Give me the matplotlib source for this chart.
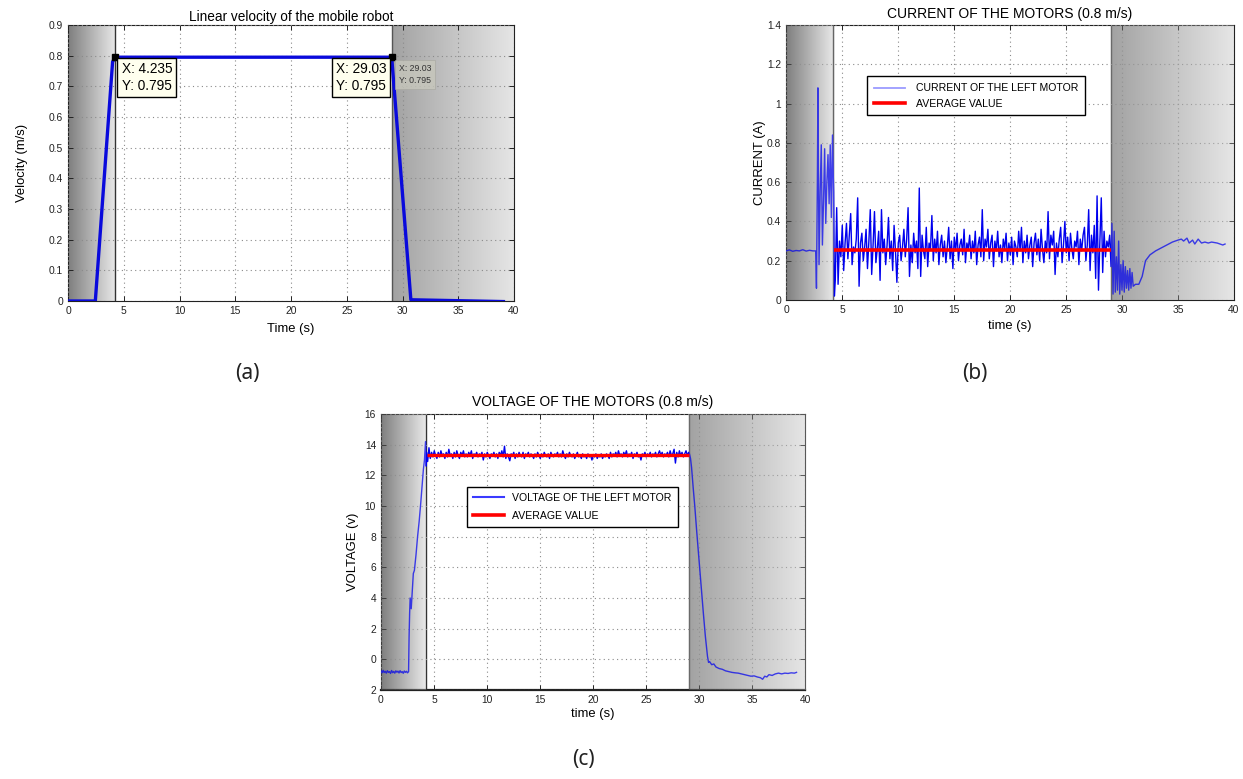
import numpy as np
import matplotlib
matplotlib.use("Agg")
import matplotlib.pyplot as plt
from matplotlib.colors import LinearSegmentedColormap
from matplotlib.lines import Line2D

plt.rcParams["font.family"] = ["Liberation Sans", "DejaVu Sans"]

# ---------------- data ----------------
# (a) linear velocity of the robot
vel_t = [0.0, 2.45, 4.0, 4.235, 29.03, 30.75, 39.2]
vel_v = [0.0, 0.0, 0.78, 0.795, 0.795, 0.004, -0.002]
tip_points = [(4.235, 0.795), (29.03, 0.795)]

# (b) motor current: start-up transient, steady run, stop transient
cur_start_t = [0.0, 0.3, 0.6, 0.9, 1.2, 1.5, 1.8, 2.1, 2.4, 2.65, 2.72, 2.8, 2.85,
               2.95, 3.05, 3.15, 3.25, 3.35, 3.45, 3.55, 3.65, 3.75, 3.85, 3.95,
               4.05, 4.15, 4.25, 4.32]
cur_start_v = [0.25, 0.255, 0.248, 0.252, 0.25, 0.256, 0.249, 0.253, 0.25, 0.25,
               0.06, 0.60, 1.08, 0.18, 0.55, 0.79, 0.28, 0.50, 0.77, 0.39, 0.60,
               0.74, 0.49, 0.79, 0.42, 0.84, 0.55, 0.02]
cur_run_t0, cur_run_dt = 4.4, 0.125
cur_run_v = [
    0.10, 0.47, 0.08, 0.30, 0.22, 0.38, 0.15, 0.29, 0.39, 0.21,
    0.33, 0.44, 0.18, 0.27, 0.24, 0.31, 0.52, 0.07, 0.29, 0.34,
    0.20, 0.27, 0.36, 0.16, 0.30, 0.46, 0.13, 0.28, 0.45, 0.19,
    0.26, 0.35, 0.10, 0.46, 0.24, 0.31, 0.18, 0.28, 0.42, 0.21,
    0.30, 0.15, 0.38, 0.25, 0.09, 0.29, 0.33, 0.20, 0.27, 0.36,
    0.22, 0.31, 0.47, 0.12, 0.28, 0.19, 0.34, 0.24, 0.30, 0.16,
    0.57, 0.12, 0.33, 0.25, 0.21, 0.37, 0.17, 0.29, 0.26, 0.43,
    0.20, 0.31, 0.24, 0.35, 0.18, 0.28, 0.33, 0.22, 0.30, 0.19,
    0.27, 0.37, 0.21, 0.30, 0.16, 0.32, 0.25, 0.34, 0.20, 0.28,
    0.31, 0.23, 0.36, 0.19, 0.29, 0.26, 0.33, 0.21, 0.30, 0.24,
    0.35, 0.18, 0.28, 0.32, 0.22, 0.46, 0.20, 0.31, 0.27, 0.36,
    0.21, 0.29, 0.33, 0.17, 0.30, 0.25, 0.35, 0.22, 0.28, 0.19,
    0.31, 0.26, 0.34, 0.20, 0.29, 0.23, 0.32, 0.18, 0.30, 0.27,
    0.22, 0.35, 0.25, 0.37, 0.19, 0.30, 0.24, 0.33, 0.21, 0.28,
    0.32, 0.17, 0.29, 0.34, 0.23, 0.31, 0.20, 0.36, 0.26, 0.19,
    0.30, 0.24, 0.45, 0.21, 0.33, 0.28, 0.35, 0.13, 0.29, 0.22,
    0.31, 0.37, 0.19, 0.28, 0.40, 0.24, 0.32, 0.20, 0.34, 0.26,
    0.21, 0.30, 0.27, 0.35, 0.18, 0.31, 0.25, 0.33, 0.37, 0.20,
    0.28, 0.46, 0.15, 0.33, 0.24, 0.38, 0.11, 0.53, 0.05, 0.30,
    0.52, 0.14, 0.35, 0.22, 0.30, 0.27, 0.33, 0.17,
]
cur_stop_t = [29.1, 29.2, 29.3, 29.4, 29.5, 29.6, 29.7, 29.8, 29.9, 30.0, 30.1,
              30.2, 30.3, 30.4, 30.5, 30.6, 30.7, 30.8, 30.9, 31.0, 31.2, 31.5,
              31.8, 32.1, 32.5, 33.0, 33.5, 34.0, 34.5, 35.0, 35.3, 35.5, 35.8,
              36.0, 36.3, 36.5, 36.8, 37.1, 37.4, 37.7, 38.0, 38.5, 39.0, 39.2]
cur_stop_v = [0.39, 0.03, 0.35, 0.04, 0.22, 0.05, 0.30, 0.03, 0.18, 0.05, 0.20,
              0.04, 0.17, 0.06, 0.15, 0.05, 0.16, 0.06, 0.14, 0.07, 0.08, 0.08,
              0.12, 0.20, 0.23, 0.25, 0.265, 0.28, 0.295, 0.305, 0.31, 0.30,
              0.315, 0.29, 0.305, 0.285, 0.31, 0.29, 0.295, 0.29, 0.295, 0.29,
              0.28, 0.285]
cur_avg = 0.255

# (c) motor voltage: start-up ramp, steady run, stop ramp
volt_start_t = [0.0, 0.1, 0.2, 0.3, 0.4, 0.5, 0.6, 0.7, 0.8, 0.9, 1.0, 1.1, 1.2,
                1.3, 1.4, 1.5, 1.6, 1.7, 1.8, 1.9, 2.0, 2.1, 2.2, 2.3, 2.4, 2.5,
                2.6, 2.65, 2.7, 2.75, 2.85, 2.95, 3.05, 3.15, 3.3, 3.45, 3.6,
                3.75, 3.9, 4.0, 4.1, 4.2, 4.25, 4.3]
volt_start_v = [-0.75, -0.88, -0.72, -0.86, -0.78, -0.9, -0.74, -0.85, -0.8,
                -0.92, -0.73, -0.87, -0.79, -0.9, -0.75, -0.84, -0.77, -0.89,
                -0.74, -0.86, -0.8, -0.91, -0.76, -0.85, -0.78, -0.88, -0.8,
                1.5, 3.0, 4.0, 3.3, 4.5, 5.6, 5.8, 6.8, 8.0, 9.0, 10.2, 11.5,
                12.4, 13.0, 14.2, 12.6, 13.5]
volt_run_t0, volt_run_dt = 4.4, 0.125
volt_run_v = [
    12.9, 13.8, 13.1, 13.5, 13.2, 13.6, 13.3, 13.1, 13.5, 13.2,
    13.6, 13.3, 13.4, 13.1, 13.5, 13.2, 13.7, 13.3, 13.4, 13.1,
    13.5, 13.2, 13.6, 13.3, 13.1, 13.5, 13.3, 13.6, 13.2, 13.4,
    13.2, 13.5, 13.3, 13.6, 13.1, 13.4, 13.3, 13.5, 13.2, 13.4,
    13.3, 13.5, 13.0, 13.4, 13.2, 13.5, 13.3, 13.1, 13.4, 13.3,
    13.5, 13.2, 13.4, 13.1, 13.5, 13.3, 13.6, 13.2, 13.9, 13.1,
    13.4, 13.2, 12.95, 13.4, 13.3, 13.5, 13.1, 13.4, 13.2, 13.5,
    13.3, 13.2, 13.5, 13.1, 13.4, 13.3, 13.5, 13.2, 13.4, 13.3,
    13.1, 13.4, 13.2, 13.5, 13.3, 13.1, 13.4, 13.2, 13.5, 13.3,
    13.2, 13.4, 13.1, 13.5, 13.3, 13.2, 13.4, 13.3, 13.5, 13.2,
    13.4, 13.2, 13.6, 13.3, 13.1, 13.4, 13.2, 13.5, 13.3, 13.2,
    13.4, 13.1, 13.3, 13.5, 13.2, 13.3, 13.1, 13.4, 13.2, 13.3,
    13.1, 13.4, 13.2, 13.3, 13.0, 13.3, 13.2, 13.4, 13.1, 13.3,
    13.2, 13.4, 13.1, 13.3, 13.2, 13.4, 13.3, 13.1, 13.5, 13.2,
    13.4, 13.3, 13.5, 13.2, 13.6, 13.3, 13.4, 13.2, 13.5, 13.3,
    13.6, 13.2, 13.4, 13.3, 13.5, 13.1, 13.4, 13.3, 13.5, 13.2,
    13.3, 13.0, 13.4, 13.3, 13.5, 13.2, 13.4, 13.3, 13.5, 13.2,
    13.4, 13.3, 13.5, 13.2, 13.4, 13.6, 13.3, 13.5, 13.2, 13.4,
    13.3, 13.5, 13.2, 13.6, 13.3, 13.4, 13.7, 12.8, 13.5, 13.2,
    13.6, 13.3, 13.5, 13.2, 13.4, 13.6, 13.3, 13.5,
]
volt_stop_t = [29.1, 29.2, 29.3, 29.45, 29.6, 29.8, 30.0, 30.2, 30.4, 30.6, 30.8,
               30.9, 31.0, 31.2, 31.4, 31.6, 31.9, 32.2, 32.5, 32.8, 33.1, 33.4,
               33.7, 34.0, 34.3, 34.6, 34.9, 35.2, 35.5, 35.8, 36.0, 36.2, 36.4,
               36.6, 36.9, 37.2, 37.5, 37.8, 38.1, 38.4, 38.7, 39.0, 39.2]
volt_stop_v = [13.4, 13.1, 12.5, 11.2, 10.0, 8.2, 6.5, 4.8, 3.1, 1.5, 0.2, -0.2,
               -0.15, -0.35, -0.3, -0.5, -0.6, -0.65, -0.75, -0.8, -0.85, -0.88,
               -0.9, -0.95, -1.0, -1.05, -1.1, -1.08, -1.15, -1.2, -1.3, -1.1,
               -1.15, -1.0, -1.05, -0.95, -0.9, -0.95, -0.9, -0.92, -0.88, -0.9,
               -0.85]
volt_avg = 13.3

# shaded phases (acceleration / deceleration)
phase_start, phase_end = 4.235, 29.03

x_ticks = [0, 5, 10, 15, 20, 25, 30, 35, 40]
vel_ticks = [0, 0.1, 0.2, 0.3, 0.4, 0.5, 0.6, 0.7, 0.8, 0.9]
vel_ticklabels = ["0", "0.1", "0.2", "0.3", "0.4", "0.5", "0.6", "0.7", "0.8", "0.9"]
cur_ticks = [0, 0.2, 0.4, 0.6, 0.8, 1.0, 1.2, 1.4]
cur_ticklabels = ["0", "0.2", "0.4", "0.6", "0.8", "1", "1.2", "1.4"]
volt_ticks = [-2, 0, 2, 4, 6, 8, 10, 12, 14, 16]
volt_ticklabels = ["2", "0", "2", "4", "6", "8", "10", "12", "14", "16"]

# ---------------- drawing helpers ----------------
grad_left = LinearSegmentedColormap.from_list("gl", ["#7e7e7e", "#e9e9e9"])
grad_right = LinearSegmentedColormap.from_list("gr", ["#a2a2a2", "#e6e6e6"])
ramp = np.linspace(0, 1, 256).reshape(1, -1)


def shade(ax, ylo, yhi, alpha=1.0, z=0.2):
    ax.imshow(ramp, cmap=grad_left, extent=(0, phase_start, ylo, yhi),
              aspect="auto", zorder=z, alpha=alpha, interpolation="bilinear")
    ax.imshow(ramp, cmap=grad_right, extent=(phase_end, 40, ylo, yhi),
              aspect="auto", zorder=z, alpha=alpha, interpolation="bilinear")


def style(ax, ylo, yhi, yt, ytl):
    ax.set_xlim(0, 40)
    ax.set_ylim(ylo, yhi)
    ax.set_xticks(x_ticks)
    ax.set_yticks(yt)
    ax.set_yticklabels(ytl)
    ax.tick_params(direction="in", length=3.5, width=0.7, top=True, right=True,
                   labelsize=7.4, pad=3.5, colors="#222222")
    ax.grid(True, linestyle=(0, (1, 3)), color="#8a8a8a", linewidth=0.8, zorder=1)
    ax.set_axisbelow(False)
    for s in ax.spines.values():
        s.set_linewidth(0.8)
        s.set_color("#222222")
    ax.axvline(phase_start, color="#333333", lw=1.0, zorder=1.5)
    ax.axvline(phase_end, color="#555555", lw=1.0, zorder=1.5)


fig = plt.figure(figsize=(12.43, 7.79), dpi=100)
W, H = 1243, 779


def add_axes(l, r, t, b):
    return fig.add_axes([l / W, 1 - b / H, (r - l) / W, (b - t) / H])


# ---------------- (a) velocity ----------------
ax1 = add_axes(68, 514, 25, 301)
shade(ax1, 0, 0.9)
ax1.plot(vel_t, vel_v, color="#0a0adc", lw=2.4, zorder=3, solid_capstyle="butt")
for px, py in tip_points:
    ax1.plot(px, py, marker="s", ms=5, color="black", zorder=5)
style(ax1, 0, 0.9, vel_ticks, vel_ticklabels)
ax1.set_title("Linear velocity of the mobile robot", fontsize=9.8, pad=3)
ax1.set_xlabel("Time (s)", fontsize=9.4, labelpad=5)
ax1.set_ylabel("Velocity (m/s)", fontsize=9.4, labelpad=15)
tip_box = dict(boxstyle="square,pad=0.3", fc="#ffffee", ec="black", lw=1.0)
ax1.text(4.8, 0.780, "X: 4.235\nY: 0.795", fontsize=9.8, va="top", ha="left",
         bbox=tip_box, zorder=6, linespacing=1.3)
ax1.text(28.55, 0.780, "X: 29.03\nY: 0.795", fontsize=9.8, va="top", ha="right",
         bbox=tip_box, zorder=6, linespacing=1.3)
ax1.text(29.65, 0.772, "X: 29.03\nY: 0.795", fontsize=6.3, va="top", ha="left",
         color="#333333", zorder=6, linespacing=1.35,
         bbox=dict(boxstyle="square,pad=0.45", fc="#c9c9bd", ec="#a8a8a0",
                   lw=0.6, alpha=0.75))

# ---------------- (b) current ----------------
ax2 = add_axes(786, 1234, 25, 300)
shade(ax2, 0, 1.4)
cur_run_t = cur_run_t0 + cur_run_dt * np.arange(len(cur_run_v))
cur_t = np.concatenate([cur_start_t, cur_run_t, cur_stop_t])
cur_v = np.concatenate([cur_start_v, cur_run_v, cur_stop_v])
ax2.plot(cur_t, cur_v, color="#0000ee", lw=1.0, zorder=3)
ax2.plot([4.3, phase_end], [cur_avg, cur_avg], color="#ff0000", lw=2.6, zorder=4,
         solid_capstyle="butt")
shade(ax2, 0, 1.4, alpha=0.28, z=3.5)
style(ax2, 0, 1.4, cur_ticks, cur_ticklabels)
ax2.set_title("CURRENT OF THE MOTORS (0.8 m/s)", fontsize=10, pad=5)
ax2.set_xlabel("time (s)", fontsize=9.4, labelpad=4)
ax2.set_ylabel("CURRENT (A)", fontsize=9.4, labelpad=1)
leg_font = {"family": ["Liberation Sans", "DejaVu Sans"], "size": 7.6}
h_cur = Line2D([], [], color="#9b9bff", lw=1.3)
h_avg = Line2D([], [], color="#ff0000", lw=2.6)
leg2 = ax2.legend([h_cur, h_avg], ["CURRENT OF THE LEFT MOTOR", "AVERAGE VALUE"],
                  loc="upper left", bbox_to_anchor=(0.181, 0.813), prop=leg_font,
                  frameon=True, fancybox=False, edgecolor="black", framealpha=1,
                  borderpad=0.65, handlelength=2.9, handletextpad=1.1,
                  labelspacing=0.5, borderaxespad=0)
leg2.get_frame().set_linewidth(1.0)
leg2.set_zorder(7)

# ---------------- (c) voltage ----------------
ax3 = add_axes(381, 805, 414, 690)
shade(ax3, -2, 16)
volt_run_t = volt_run_t0 + volt_run_dt * np.arange(len(volt_run_v))
volt_t = np.concatenate([volt_start_t, volt_run_t, volt_stop_t])
volt_v = np.concatenate([volt_start_v, volt_run_v, volt_stop_v])
ax3.plot(volt_t, volt_v, color="#0000ee", lw=1.0, zorder=3)
ax3.plot([4.3, phase_end], [volt_avg, volt_avg], color="#ff0000", lw=2.4, zorder=4,
         solid_capstyle="butt")
shade(ax3, -2, 16, alpha=0.28, z=3.5)
style(ax3, -2, 16, volt_ticks, volt_ticklabels)
ax3.spines["bottom"].set_linewidth(1.6)
ax3.set_title("VOLTAGE OF THE MOTORS (0.8 m/s)", fontsize=10, pad=6)
ax3.set_xlabel("time (s)", fontsize=9.4, labelpad=2)
ax3.set_ylabel("VOLTAGE (v)", fontsize=9.4, labelpad=4)
h_volt = Line2D([], [], color="#3a3aff", lw=1.5)
leg3 = ax3.legend([h_volt, h_avg], ["VOLTAGE OF THE LEFT MOTOR", "AVERAGE VALUE"],
                  loc="upper left", bbox_to_anchor=(0.203, 0.737), prop=leg_font,
                  frameon=True, fancybox=False, edgecolor="black", framealpha=1,
                  borderpad=0.6, handlelength=2.9, handletextpad=0.8,
                  labelspacing=0.75, borderaxespad=0)
leg3.get_frame().set_linewidth(1.0)
leg3.set_zorder(7)

# ---------------- panel letters ----------------
letter_font = dict(fontsize=15, color="#222222", ha="center", va="center",
                   family=["Noto Sans", "DejaVu Sans"], fontweight="light")
fig.text(247 / W, 1 - 373 / H, "(a)", **letter_font)
fig.text(975 / W, 1 - 373 / H, "(b)", **letter_font)
fig.text(583 / W, 1 - 760 / H, "(c)", **letter_font)

fig.savefig("out.png", dpi=100, facecolor="white")
